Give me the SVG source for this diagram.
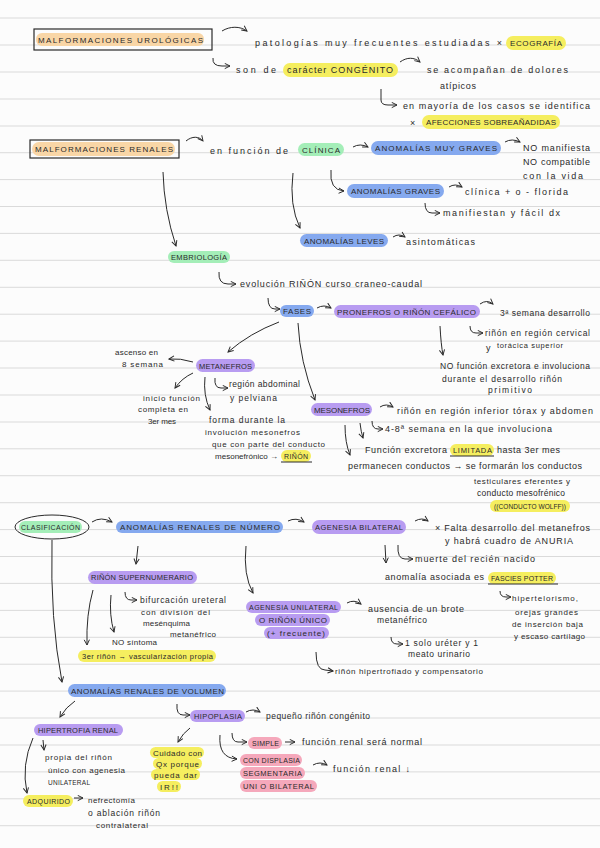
<svg xmlns="http://www.w3.org/2000/svg" width="600" height="848" viewBox="0 0 600 848">
<defs>
<marker id="ah" viewBox="0 0 8 8" refX="7" refY="4" markerWidth="7" markerHeight="7" orient="auto" markerUnits="userSpaceOnUse">
<path d="M1,1 L7,4 L1,7" fill="none" stroke="#2a2a2a" stroke-width="1.1"/>
</marker>
<style>
.rl{stroke:#dadada;stroke-width:1}
.t{font-family:"Liberation Sans",Arial,sans-serif;font-size:9px;fill:#2a2a2a}
.m{font-size:8.5px}
.s{font-size:8px}
.xs{font-size:7.5px}
.u{font-family:"Liberation Sans",Arial,sans-serif;font-size:8px;fill:#2a2a2a}
.u75{font-size:7.5px}
.u7{font-size:7px}
.u65{font-size:6.5px}
.c{fill:none;stroke:#2a2a2a;stroke-width:1;marker-end:url(#ah)}
.n{fill:none;stroke:#2a2a2a;stroke-width:1}
.bx{fill:none;stroke:#2a2a2a;stroke-width:1.2}
.o{fill:#f9d6a6}
.y{fill:#f5ee5f}
.g{fill:#a4eeb8}
.b{fill:#85a9ef}
.p{fill:#b89cf1}
.k{fill:#f5a8bb}
</style>
</defs>
<rect width="600" height="848" fill="#fcfcfc"/>
<g id="ruling">
<line class="rl" x1="0" y1="18" x2="600" y2="18"/>
<line class="rl" x1="0" y1="45" x2="600" y2="45"/>
<line class="rl" x1="0" y1="72" x2="600" y2="72"/>
<line class="rl" x1="0" y1="99" x2="600" y2="99"/>
<line class="rl" x1="0" y1="126" x2="600" y2="126"/>
<line class="rl" x1="0" y1="152.7" x2="600" y2="152.7"/>
<line class="rl" x1="0" y1="179.6" x2="600" y2="179.6"/>
<line class="rl" x1="0" y1="206.5" x2="600" y2="206.5"/>
<line class="rl" x1="0" y1="233.4" x2="600" y2="233.4"/>
<line class="rl" x1="0" y1="260.3" x2="600" y2="260.3"/>
<line class="rl" x1="0" y1="287.3" x2="600" y2="287.3"/>
<line class="rl" x1="0" y1="314.2" x2="600" y2="314.2"/>
<line class="rl" x1="0" y1="341.1" x2="600" y2="341.1"/>
<line class="rl" x1="0" y1="368" x2="600" y2="368"/>
<line class="rl" x1="0" y1="395" x2="600" y2="395"/>
<line class="rl" x1="0" y1="422" x2="600" y2="422"/>
<line class="rl" x1="0" y1="448.8" x2="600" y2="448.8"/>
<line class="rl" x1="0" y1="475.7" x2="600" y2="475.7"/>
<line class="rl" x1="0" y1="502.7" x2="600" y2="502.7"/>
<line class="rl" x1="0" y1="529.6" x2="600" y2="529.6"/>
<line class="rl" x1="0" y1="556.5" x2="600" y2="556.5"/>
<line class="rl" x1="0" y1="583.4" x2="600" y2="583.4"/>
<line class="rl" x1="0" y1="610.4" x2="600" y2="610.4"/>
<line class="rl" x1="0" y1="637.3" x2="600" y2="637.3"/>
<line class="rl" x1="0" y1="664.2" x2="600" y2="664.2"/>
<line class="rl" x1="0" y1="691.1" x2="600" y2="691.1"/>
<line class="rl" x1="0" y1="718" x2="600" y2="718"/>
<line class="rl" x1="0" y1="745" x2="600" y2="745"/>
<line class="rl" x1="0" y1="771.9" x2="600" y2="771.9"/>
<line class="rl" x1="0" y1="798.8" x2="600" y2="798.8"/>
<line class="rl" x1="0" y1="825.7" x2="600" y2="825.7"/>
</g>

<g id="connectors">
<path class="c" d="M222,31 C230,26 240,26 247,31"/>
<path class="c" d="M213,58 Q212,66 222,66 L230,66"/>
<path class="c" d="M400,62 C407,57 414,57 420,62"/>
<path class="c" d="M381,89 L381,100 Q381,105 388,105 L397,105"/>
<path class="c" d="M186,141 C192,136 199,136 203,141"/>
<path class="c" d="M353,147 Q360,143 368,147"/>
<path class="c" d="M505,142 Q512,138 520,142"/>
<path class="c" d="M331,170 Q329,190 344,191"/>
<path class="c" d="M449,187 Q455,183 462,187"/>
<path class="c" d="M425,203 Q425,213 432,213 L440,213"/>
<path class="c" d="M293,173 Q289,205 300,228"/>
<path class="c" d="M393,237 Q399,233 405,237"/>
<path class="c" d="M163,172 Q164,210 176,246"/>
<path class="c" d="M219,272 Q218,284 228,284 L236,284"/>
<path class="c" d="M268,298 Q268,309 275,309 L280,309"/>
<path class="c" d="M317,308 Q324,304 331,308"/>
<path class="c" d="M480,304 Q487,299 493,304"/>
<path class="c" d="M470,326 Q470,333 476,333 L483,333"/>
<path class="c" d="M440,326 Q441,345 443,355"/>
<path class="c" d="M279,322 Q250,333 228,352"/>
<path class="c" d="M193,362 Q180,358 169,359"/>
<path class="c" d="M193,373 Q182,378 175,388"/>
<path class="c" d="M205,377 Q203,395 210,410"/>
<path class="c" d="M215,378 Q214,388 221,388 L228,388"/>
<path class="c" d="M298,323 Q300,362 315,400"/>
<path class="c" d="M380,407 Q386,403 393,407"/>
<path class="c" d="M372,421 Q372,429 378,429 L383,429"/>
<path class="c" d="M360,423 Q361,432 363,438"/>
<path class="c" d="M345,425 Q345,443 350,455"/>
<path class="c" d="M92,522 Q101,516 112,522"/>
<path class="c" d="M288,521 Q296,517 304,522"/>
<path class="c" d="M415,521 Q422,517 428,521"/>
<path class="c" d="M385,545 L386,563"/>
<path class="c" d="M398,545 Q397,559 405,559 L413,559"/>
<path class="c" d="M500,591 Q500,597 506,597 L511,597"/>
<path class="c" d="M138,546 L136,564"/>
<path class="c" d="M246,546 Q243,575 253,593"/>
<path class="c" d="M347,603 Q354,599 361,604"/>
<path class="c" d="M391,637 Q391,644 397,644 L403,644"/>
<path class="c" d="M316,652 Q316,670 325,670 L333,671"/>
<path class="c" d="M125,592 Q125,600 131,600 L137,600"/>
<path class="c" d="M93,590 Q86,615 87,645"/>
<path class="c" d="M111,595 Q109,615 114,632"/>
<path class="c" d="M52,540 Q50,620 62,682"/>
<path class="c" d="M75,701 Q66,707 60,717"/>
<path class="c" d="M43,740 L44,750"/>
<path class="c" d="M33,738 Q21,765 27,793"/>
<path class="c" d="M74,798 L83,798"/>
<path class="c" d="M177,704 Q176,715 183,715 L190,715"/>
<path class="c" d="M246,712 Q253,708 260,712"/>
<path class="c" d="M190,728 Q183,733 178,742"/>
<path class="c" d="M232,733 Q232,742 238,742 L247,742"/>
<path class="c" d="M285,742 L295,742"/>
<path class="c" d="M220,735 Q218,758 237,759"/>
<path class="c" d="M313,765 Q320,761 327,765"/>
</g>

<g id="n-urologicas">
<rect class="bx" x="34" y="29" width="178" height="21"/>
<rect class="o" x="36" y="33" width="168" height="13" rx="6"/>
<text class="u" x="38" y="43" textLength="165">MALFORMACIONES UROLÓGICAS</text>
</g>
<g id="n-patologias">
<text class="t" x="255" y="46" textLength="247">patologías muy frecuentes estudiadas ×</text>
<rect class="y" x="506" y="36" width="60" height="14" rx="7"/>
<text class="u" x="510" y="46" textLength="52">ECOGRAFÍA</text>
</g>
<g id="n-congenito">
<text class="t" x="236" y="73" textLength="40">son de</text>
<rect class="y" x="283" y="63" width="115" height="14" rx="7"/>
<text class="t" x="287" y="73" textLength="106">carácter CONGÉNITO</text>
</g>
<g id="n-dolores">
<text class="t" x="427" y="73" textLength="141">se acompañan de dolores</text>
<text class="t" x="440" y="89" textLength="36">atípicos</text>
</g>
<g id="n-afecciones">
<text class="t" x="403" y="109" textLength="187">en mayoría de los casos se identifica</text>
<text class="t" x="410" y="126">×</text>
<rect class="y" x="422" y="115" width="138" height="14" rx="7"/>
<text class="u" x="426" y="125" textLength="130">AFECCIONES SOBREAÑADIDAS</text>
</g>

<g id="n-renales">
<rect class="bx" x="30" y="140" width="149" height="18"/>
<rect class="o" x="32" y="142" width="143" height="14" rx="7"/>
<text class="u" x="35" y="152" textLength="138">MALFORMACIONES RENALES</text>
</g>
<g id="n-clinica">
<text class="t" x="210" y="154" textLength="78">en función de</text>
<rect class="g" x="298" y="143" width="46" height="13" rx="6.5"/>
<text class="u" x="302" y="153" textLength="38">CLÍNICA</text>
</g>
<g id="n-muygraves">
<rect class="b" x="371" y="141" width="130" height="14" rx="7"/>
<text class="u" x="375" y="151" textLength="122">ANOMALÍAS MUY GRAVES</text>
<text class="t" x="523" y="151" textLength="67">NO manifiesta</text>
<text class="t" x="523" y="165" textLength="67">NO compatible</text>
<text class="t" x="523" y="179" textLength="60">con la vida</text>
</g>
<g id="n-graves">
<rect class="b" x="347" y="184" width="97" height="14" rx="7"/>
<text class="u" x="351" y="194" textLength="89">ANOMALÍAS GRAVES</text>
<text class="t" x="465" y="195" textLength="103">clínica + o - florida</text>
<text class="t" x="443" y="216" textLength="117">manifiestan y fácil dx</text>
</g>
<g id="n-leves">
<rect class="b" x="300" y="234" width="88" height="13" rx="6.5"/>
<text class="u" x="304" y="244" textLength="80">ANOMALÍAS LEVES</text>
<text class="t" x="406" y="245" textLength="69">asintomáticas</text>
</g>
<g id="n-embriologia">
<rect class="g" x="168" y="251" width="62" height="12" rx="6"/>
<text class="u u75" x="171" y="260" textLength="56">EMBRIOLOGÍA</text>
<text class="t" x="240" y="287" textLength="182">evolución RIÑÓN curso craneo-caudal</text>
</g>
<g id="n-fases">
<rect class="b" x="280" y="305" width="34" height="12" rx="6"/>
<text class="u" x="283" y="314" textLength="28">FASES</text>
</g>
<g id="n-pronefros">
<rect class="p" x="334" y="305" width="146" height="13" rx="6.5"/>
<text class="u" x="337" y="315" textLength="139">PRONEFROS O RIÑÓN CEFÁLICO</text>
<text class="t m" x="500" y="316" textLength="90">3ª semana desarrollo</text>
<text class="t m" x="485" y="336" textLength="105">riñón en región cervical</text>
<text class="t" x="486" y="351">y</text>
<text class="t xs" x="497" y="348" textLength="66">torácica superior</text>
<text class="t m" x="440" y="369" textLength="150">NO función excretora e involuciona</text>
<text class="t m" x="442" y="382" textLength="120">durante el desarrollo riñón</text>
<text class="t m" x="488" y="393" textLength="44">primitivo</text>
</g>
<g id="n-metanefros">
<rect class="p" x="196" y="359" width="59" height="13" rx="6.5"/>
<text class="u u75" x="199" y="369" textLength="53">METANEFROS</text>
<text class="t s" x="115" y="355" textLength="43">ascenso en</text>
<text class="t s" x="122" y="367" textLength="41">8 semana</text>
<text class="t s" x="143" y="401" textLength="57">inicio función</text>
<text class="t s" x="138" y="412" textLength="50">completa en</text>
<text class="t s" x="148" y="424" textLength="28">3er mes</text>
<text class="t m" x="229" y="387" textLength="71">región abdominal</text>
<text class="t m" x="230" y="401" textLength="47">y pelviana</text>
<text class="t m" x="209" y="423" textLength="76">forma durante la</text>
<text class="t s" x="205" y="435" textLength="95">involución mesonefros</text>
<text class="t s" x="212" y="447" textLength="113">que con parte del conducto</text>
<text class="t s" x="215" y="459" textLength="63">mesonefrónico →</text>
<rect class="y" x="281" y="450" width="30" height="12" rx="6"/>
<text class="u u7" x="284" y="459" textLength="24">RIÑÓN</text>
<line class="n" x1="281" y1="462" x2="312" y2="462"/>
</g>
<g id="n-mesonefros">
<rect class="p" x="311" y="403" width="61" height="13" rx="6.5"/>
<text class="u" x="314" y="413" textLength="56">MESONEFROS</text>
<text class="t" x="397" y="414" textLength="196">riñón en región inferior tórax y abdomen</text>
<text class="t" x="385" y="432" textLength="167">4-8ª semana en la que involuciona</text>
<text class="t" x="365" y="453" textLength="82">Función excretora</text>
<rect class="y" x="450" y="444" width="44" height="12" rx="6"/>
<text class="u u75" x="453" y="453" textLength="39">LIMITADA</text>
<line class="n" x1="450" y1="456" x2="494" y2="456"/>
<text class="t" x="497" y="453" textLength="63">hasta 3er mes</text>
<text class="t" x="348" y="469" textLength="234">permanecen conductos → se formarán los conductos</text>
<text class="t s" x="474" y="484" textLength="96">testiculares eferentes y</text>
<text class="t m" x="477" y="496" textLength="88">conducto mesofrénico</text>
<rect class="y" x="490" y="500" width="80" height="12" rx="6"/>
<text class="u u65" x="494" y="509" textLength="72">((CONDUCTO WOLFF))</text>
</g>

<g id="n-clasificacion">
<ellipse class="n" cx="52" cy="527" rx="37" ry="12"/>
<rect class="g" x="19" y="521" width="63" height="12" rx="6"/>
<text class="u u7" x="21" y="530" textLength="59">CLASIFICACIÓN</text>
</g>
<g id="n-numero">
<rect class="b" x="116" y="521" width="167" height="12" rx="6"/>
<text class="u" x="120" y="530" textLength="160">ANOMALÍAS RENALES DE NÚMERO</text>
</g>
<g id="n-agenesia-bilateral">
<rect class="p" x="312" y="520" width="94" height="14" rx="7"/>
<text class="u u75" x="315" y="530" textLength="88">AGENESIA BILATERAL</text>
<text class="t" x="435" y="531" textLength="155">× Falta desarrollo del metanefros</text>
<text class="t" x="445" y="544" textLength="128">y habrá cuadro de ANURIA</text>
<text class="t" x="415" y="562" textLength="120">muerte del recién nacido</text>
<text class="t" x="385" y="580" textLength="99">anomalía asociada es</text>
<rect class="y" x="488" y="572" width="68" height="12" rx="6"/>
<text class="u u7" x="491" y="581" textLength="62">FASCIES POTTER</text>
<line class="n" x1="488" y1="584" x2="558" y2="584"/>
<text class="t s" x="512" y="601" textLength="66">hipertelorismo,</text>
<text class="t s" x="515" y="615" textLength="63">orejas grandes</text>
<text class="t s" x="512" y="627" textLength="71">de inserción baja</text>
<text class="t s" x="514" y="639" textLength="71">y escaso cartílago</text>
</g>
<g id="n-supernumerario">
<rect class="p" x="88" y="571" width="109" height="13" rx="6.5"/>
<text class="u u75" x="91" y="580" textLength="102">RIÑÓN SUPERNUMERARIO</text>
<text class="t m" x="140" y="603" textLength="86">bifurcación ureteral</text>
<text class="t s" x="141" y="615" textLength="69">con división del</text>
<text class="t s" x="143" y="626" textLength="47">mesénquima</text>
<text class="t s" x="170" y="637" textLength="46">metanéfrico</text>
<text class="t s" x="112" y="645" textLength="45">NO síntoma</text>
<rect class="y" x="78" y="650" width="138" height="12" rx="6"/>
<text class="t xs" x="82" y="659" textLength="131">3er riñón → vascularización propia</text>
</g>
<g id="n-agenesia-unilateral">
<rect class="p" x="246" y="601" width="95" height="12" rx="6"/>
<rect class="p" x="255" y="614" width="75" height="12" rx="6"/>
<rect class="p" x="264" y="627" width="65" height="12" rx="6"/>
<text class="u u7" x="249" y="610" textLength="89">AGENESIA UNILATERAL</text>
<text class="u" x="259" y="623" textLength="68">O RIÑÓN ÚNICO</text>
<text class="t s" x="267" y="636" textLength="58">(+ frecuente)</text>
<text class="t" x="368" y="612" textLength="96">ausencia de un brote</text>
<text class="t m" x="377" y="623" textLength="50">metanéfrico</text>
<text class="t m" x="405" y="646" textLength="73">1 solo uréter y 1</text>
<text class="t m" x="408" y="657" textLength="62">meato urinario</text>
<text class="t s" x="335" y="674" textLength="148">riñón hipertrofiado y compensatorio</text>
</g>

<g id="n-volumen">
<rect class="b" x="68" y="684" width="158" height="13" rx="6.5"/>
<text class="u" x="71" y="694" textLength="153">ANOMALÍAS RENALES DE VOLUMEN</text>
</g>
<g id="n-hipertrofia">
<rect class="p" x="34" y="724" width="89" height="12" rx="6"/>
<text class="u u75" x="38" y="733" textLength="80">HIPERTROFIA RENAL</text>
<text class="t s" x="45" y="760" textLength="67">propia del riñón</text>
<text class="t s" x="48" y="773" textLength="77">único con agenesia</text>
<text class="u u65" x="48" y="785" textLength="42">UNILATERAL</text>
</g>
<g id="n-adquirido">
<rect class="y" x="23" y="795" width="50" height="12" rx="6"/>
<text class="u u7" x="27" y="804" textLength="43">ADQUIRIDO</text>
<text class="t s" x="88" y="803" textLength="47">nefrectomía</text>
<text class="t m" x="88" y="816" textLength="72">o ablación riñón</text>
<text class="t s" x="96" y="828" textLength="52">contralateral</text>
</g>
<g id="n-hipoplasia">
<rect class="p" x="190" y="710" width="55" height="12" rx="6"/>
<text class="u u75" x="194" y="719" textLength="48">HIPOPLASIA</text>
<text class="t m" x="266" y="719" textLength="104">pequeño riñón congénito</text>
</g>
<g id="n-cuidado">
<rect class="y" x="150" y="747" width="54" height="11" rx="5.5"/>
<rect class="y" x="153" y="758" width="49" height="11" rx="5.5"/>
<rect class="y" x="151" y="769" width="49" height="11" rx="5.5"/>
<rect class="y" x="157" y="781" width="24" height="11" rx="5.5"/>
<text class="t s" x="153" y="756" textLength="49">Cuidado con</text>
<text class="t s" x="156" y="767" textLength="43">Qx porque</text>
<text class="t s" x="154" y="778" textLength="43">pueda dar</text>
<text class="t s" x="160" y="790" textLength="18">IR!!</text>
</g>
<g id="n-simple">
<rect class="k" x="248" y="737" width="34" height="12" rx="6"/>
<text class="u u7" x="252" y="746" textLength="27">SIMPLE</text>
<text class="t" x="302" y="745" textLength="120">función renal será normal</text>
</g>
<g id="n-displasia">
<rect class="k" x="240" y="754" width="62" height="12" rx="6"/>
<rect class="k" x="240" y="767" width="65" height="12" rx="6"/>
<rect class="k" x="240" y="780" width="77" height="12" rx="6"/>
<text class="u u7" x="243" y="763" textLength="57">CON DISPLASIA</text>
<text class="u u75" x="243" y="776" textLength="59">SEGMENTARIA</text>
<text class="u u75" x="243" y="789" textLength="71">UNI O BILATERAL</text>
<text class="t" x="333" y="772" textLength="77">función renal ↓</text>
</g>
</svg>
